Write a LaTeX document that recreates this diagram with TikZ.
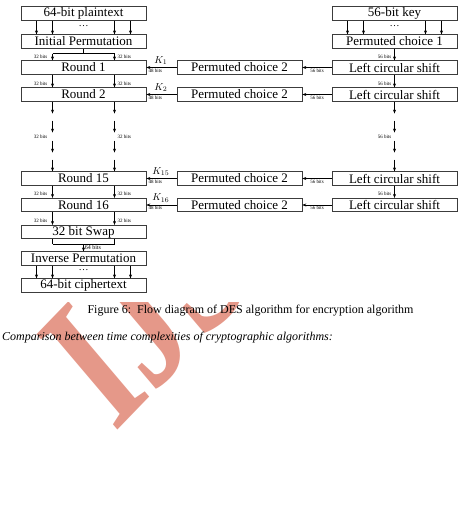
\documentclass[tikz,border=0pt]{standalone}
\usepackage{fontspec}
\setmainfont{Liberation Serif}
\usetikzlibrary{arrows.meta,calc}
\definecolor{wmsalmon}{RGB}{229,152,137}
\definecolor{boxgray}{RGB}{60,60,60}

\tikzset{
  desbox/.style={draw=boxgray, line width=0.6pt, minimum width=125pt, minimum height=13.5pt, inner sep=0pt, font=\fontsize{13}{15}\selectfont},
  flow/.style={line width=0.5pt, -{Stealth[length=4pt,width=3pt]}},
  plainline/.style={line width=0.5pt},
  bits/.style={inner sep=1pt, font=\fontsize{5}{6}\selectfont},
  keylabel/.style={inner sep=2.5pt, font=\fontsize{10}{12}\selectfont},
  dotsnode/.style={inner sep=0pt, font=\fontsize{10}{12}\selectfont},
  watermark/.style={inner sep=0pt, text=wmsalmon, font=\fontsize{190}{190}\selectfont\bfseries}
}

\begin{document}
\begin{tikzpicture}[x=1pt,y=1pt,yscale=-1]
\useasboundingbox (0,0) rectangle (459,506);

% Watermark, hidden under the figure
\begin{scope}
\clip (0,302.5) rectangle (459,506);
\node[watermark, anchor=base west, rotate=46, xslant=0.1, xscale=0.75] (wm) at (114,434) {IJSER};
\end{scope}

%Lanes
\coordinate (laneL) at (52.5,0);
\coordinate (laneR) at (114.5,0);
\coordinate (laneK) at (394.5,0);

% Data column
\node[desbox] (plain) at (83.5,13.5) {64-bit plaintext};
\node[desbox] (ip) at (83.5,41.5) {Initial Permutation};
\node[desbox] (r1) at (83.5,67.5) {Round 1};
\node[desbox] (r2) at (83.5,94.5) {Round 2};
\node[desbox] (r15) at (83.5,178.5) {Round 15};
\node[desbox] (r16) at (83.5,205) {Round 16};
\node[desbox] (swap) at (83.5,232) {32 bit Swap};
\node[desbox] (invp) at (83.5,258.5) {Inverse Permutation};
\node[desbox] (cipher) at (83.5,285.5) {64-bit ciphertext};

% Key column
\node[desbox] (key) at (394.5,13.5) {56-bit key};
\node[desbox] (pc1) at (394.5,41.5) {Permuted choice 1};
\node[desbox] (ls1) at (394.5,67.5) {Left circular shift};
\node[desbox] (ls2) at (394.5,94.5) {Left circular shift};
\node[desbox] (ls15) at (394.5,178.5) {Left circular shift};
\node[desbox] (ls16) at (394.5,205) {Left circular shift};
\node[desbox] (pc2a) at (239.5,67.5) {Permuted choice 2};
\node[desbox] (pc2b) at (239.5,94.5) {Permuted choice 2};
\node[desbox] (pc2c) at (239.5,178.5) {Permuted choice 2};
\node[desbox] (pc2d) at (239.5,205) {Permuted choice 2};

% 64 and 56 wires
\foreach \dx in {-47,-31,31,47} {
  \draw[flow] ([xshift=\dx pt]plain.south) -- ([xshift=\dx pt]ip.north);
  \draw[flow] ([xshift=\dx pt]invp.south) -- ([xshift=\dx pt]cipher.north);
  \draw[flow] ([xshift=\dx pt]key.south) -- ([xshift=\dx pt]pc1.north);
}
\node[dotsnode] (dots1) at (83.5,26.5) {\dots};
\node[dotsnode] (dots2) at (83.5,270.5) {\dots};
\node[dotsnode] (dots3) at (394.5,26.5) {\dots};

% Split after initial permutation
\draw[plainline] (ip.south) -- ++(0,5) coordinate (ipfork);
\draw[plainline] (ipfork -| laneL) -- (ipfork -| laneR);
\draw[flow] (ipfork -| laneL) -- (r1.north -| laneL);
\draw[flow] (ipfork -| laneR) -- (r1.north -| laneR);

% Round to round
\foreach \a/\b in {r1/r2,r15/r16,r16/swap} {
  \draw[flow] (\a.south -| laneL) -- (\b.north -| laneL);
  \draw[flow] (\a.south -| laneR) -- (\b.north -| laneR);
}
\foreach \b in {r1,r2,r16,swap} {
  \node[bits, anchor=east] at ($(\b.north -| laneL)+(-4,-4)$) {32 bits};
  \node[bits, anchor=west] at ($(\b.north -| laneR)+(2,-4)$) {32 bits};
}

% Rounds 3 to 14
\foreach \lane in {laneL,laneR,laneK} {
  \foreach \s/\e in {0/12,19/31,39/51}
    \draw[flow] ($(r2.south -| \lane)+(0,\s)$) -- ($(r2.south -| \lane)+(0,\e)$);
  \draw[flow] ($(r2.south -| \lane)+(0,58)$) -- (r15.north -| \lane);
}
\node[bits, anchor=east] at ($(r2.south -| laneL)+(-4,35)$) {32 bits};
\node[bits, anchor=west] at ($(r2.south -| laneR)+(2,35)$) {32 bits};
\node[bits, anchor=east] at ($(r2.south -| laneK)+(-2,35)$) {56 bits};

% Key shifts
\foreach \a/\b in {pc1/ls1,ls1/ls2,ls15/ls16}
  \draw[flow] (\a.south -| laneK) -- (\b.north -| laneK);
\foreach \b in {ls1,ls2,ls16}
  \node[bits, anchor=east] at ($(\b.north -| laneK)+(-2,-4)$) {56 bits};

% Subkeys
\foreach \ls/\pc/\r/\k in {ls1/pc2a/r1/1,ls2/pc2b/r2/2,ls15/pc2c/r15/15,ls16/pc2d/r16/16} {
  \draw[flow] (\ls.west) -- (\pc.east) node[bits, midway, below] {56 bits};
  \draw[flow] (\pc.west) -- (\r.east) node[bits, pos=0.7, below] {48 bits}
    node[keylabel, pos=0.52, above] {$K_{\k}$};
}

% Swap to inverse permutation
\draw[plainline] (swap.south -| laneL) -- ++(0,5) coordinate (swl);
\draw[plainline] (swap.south -| laneR) -- ++(0,5) coordinate (swr);
\draw[plainline] (swl) -- (swr);
\draw[flow] (swl -| invp.north) -- (invp.north)
  node[bits, midway, right, font=\fontsize{6}{7}\selectfont] {64 bits};

% Text Node
\node[font=\fontsize{12}{14}\selectfont] (cap) at (250.5,311) {Figure 6:\ \ Flow diagram of DES algorithm for encryption algorithm};
% Text Node
\node[anchor=west, inner sep=0pt, font=\fontsize{12}{14}\selectfont\itshape] (cmp) at (2,338) {Comparison between time complexities of cryptographic algorithms:};

\end{tikzpicture}
\end{document}
